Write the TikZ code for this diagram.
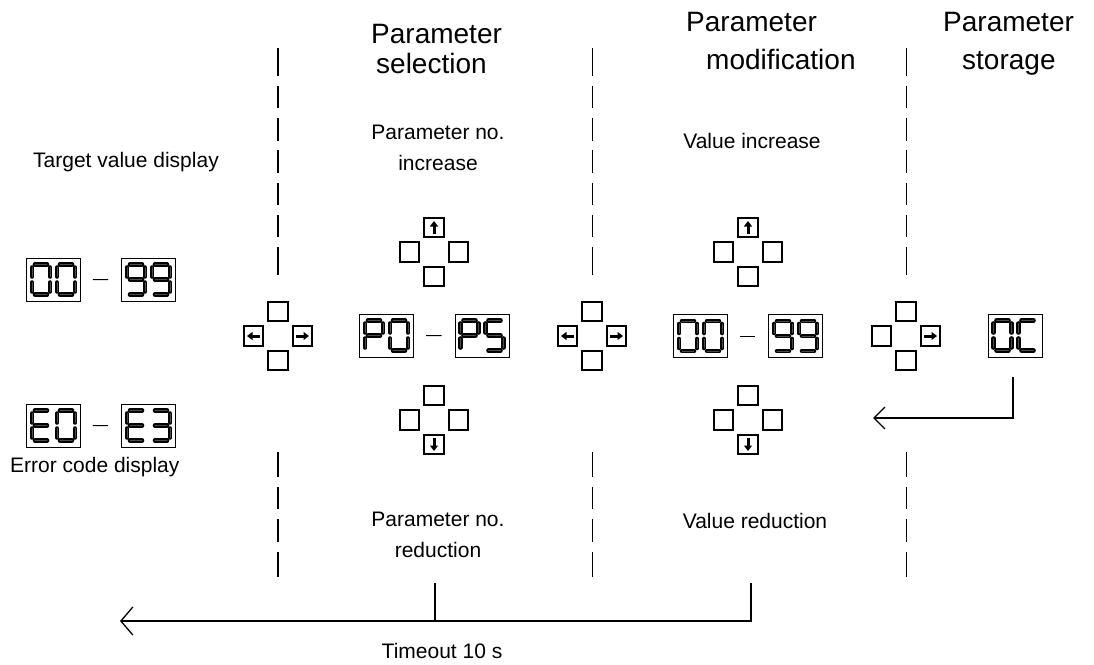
\documentclass[tikz,border=0pt]{standalone}
\usepackage{fontspec}
\setmainfont{Liberation Sans}
\usetikzlibrary{arrows.meta,calc}

\tikzset{
  btn/.style={draw, line width=2.2pt, minimum size=19.5pt, inner sep=0pt},
  disp/.style={draw, line width=0.9pt, minimum width=54pt, minimum height=43pt, inner sep=0pt},
  segst/.style={line width=4.6pt, line cap=round},
  segin/.style={line width=0.8pt, line cap=round, black!70},
  dline/.style={line width=1.5pt},
  conn/.style={line width=1.3pt},
  hdr/.style={font=\fontsize{28}{30}\selectfont, inner sep=0pt, anchor=base west, align=left},
  lbl/.style={font=\fontsize{21}{31}\selectfont, inner sep=0pt, anchor=base, align=center},
  barrow/.style={line width=3pt, -{Triangle[length=5.5pt,width=8pt]}},
  dashup/.style={dline, dash pattern=on 28pt off 10pt on 22pt off 10pt on 23pt off 9pt on 23pt off 10pt on 22pt off 10pt on 22pt off 10pt on 28pt off 50pt},
  dashlo/.style={dline, dash pattern=on 25pt off 10pt on 22pt off 10pt on 23pt off 10pt on 25pt off 50pt},
  barb/.style={conn, -{Straight Barb[length=11pt,width=22pt]}},
  barbB/.style={conn, -{Straight Barb[length=12pt,width=28pt]}}
}

\def\segcoa{-6/-15/6/-15}
\def\segcob{9/-12/9/-3}
\def\segcoc{9/3/9/12}
\def\segcod{-6/15/6/15}
\def\segcoe{-9/3/-9/12}
\def\segcof{-9/-12/-9/-3}
\def\segcog{-6/0/6/0}
\def\segpath#1/#2/#3/#4\relax{\draw[segst] (#1,#2)--(#3,#4); \draw[segin] (#1,#2)--(#3,#4);}
\newcommand\sdigit[3]{%
  \begin{scope}[shift={(#1,#2)}]
    \foreach \s in {#3}{\expandafter\expandafter\expandafter\segpath\csname segco\s\endcsname\relax}
  \end{scope}}
\newcommand\dispbox[5]{%
  \node[disp] (#1) at (#2,#3) {};
  \sdigit{#2-12.5}{#3}{#4}
  \sdigit{#2+12.5}{#3}{#5}}
\newcommand\dpad[3]{%
  \node[btn] (#1t) at (#2,#3-24.5) {};
  \node[btn] (#1l) at (#2-24.5,#3) {};
  \node[btn] (#1r) at (#2+24.5,#3) {};
  \node[btn] (#1b) at (#2,#3+24.5) {};}
\newcommand\arrU[1]{\draw[barrow] ([yshift=-6.5pt]#1.center) -- ([yshift=6.5pt]#1.center);}
\newcommand\arrD[1]{\draw[barrow] ([yshift=6.5pt]#1.center) -- ([yshift=-6.5pt]#1.center);}
\newcommand\arrL[1]{\draw[barrow] ([xshift=6.5pt]#1.center) -- ([xshift=-6.5pt]#1.center);}
\newcommand\arrR[1]{\draw[barrow] ([xshift=-6.5pt]#1.center) -- ([xshift=6.5pt]#1.center);}
\newcommand\rangedash[2]{\draw[line width=1pt] ($(#1.east)!0.3!(#2.west)$) -- ($(#1.east)!0.68!(#2.west)$);}

\begin{document}
\begin{tikzpicture}[x=1pt,y=-1pt]
\useasboundingbox (0,0) rectangle (1094,664);

% headers (anchor = baseline of last line)
\node[hdr] (h1) at (371,73) {Parameter\\\hspace*{5pt}selection};
\node[hdr] (h2) at (686,69) {Parameter\\[8pt]\hspace*{20pt}modification};
\node[hdr] (h3) at (943,69) {Parameter\\[8pt]\hspace*{19pt}storage};

% small labels
\node[lbl, anchor=base west] (ltv) at (33,167) {Target value display};
\node[lbl, anchor=base west] (lec) at (10,472) {Error code display};
\node[lbl] (lpi) at (438,170) {Parameter no.\\increase};
\node[lbl] (lvi) at (752,148) {Value increase};
\node[lbl] (lpr) at (438,557) {Parameter no.\\reduction};
\node[lbl] (lvr) at (755,528) {Value reduction};
\node[lbl] (lto) at (442,658) {Timeout 10 s};

% dashed separators
\foreach \xx in {278,592.5,906.5}{
  \draw[dashup] (\xx,48) -- (\xx,275);
  \draw[dashlo] (\xx,452) -- (\xx,577);
}

% displays
\dispbox{dA}{53.5}{279.5}{a,b,c,d,e,f}{a,b,c,d,e,f}
\dispbox{dB}{148.5}{279.5}{a,b,c,d,f,g}{a,b,c,d,f,g}
\dispbox{eA}{53.5}{425.5}{a,d,e,f,g}{a,b,c,d,e,f}
\dispbox{eB}{148.5}{425.5}{a,d,e,f,g}{a,b,c,d,g}
\dispbox{pA}{386.5}{335.5}{a,b,e,f,g}{a,b,c,d,e,f}
\dispbox{pB}{482}{335.5}{a,b,e,f,g}{a,c,d,f,g}
\dispbox{vA}{700.5}{336}{a,b,c,d,e,f}{a,b,c,d,e,f}
\dispbox{vB}{795.5}{336}{a,b,c,d,f,g}{a,b,c,d,f,g}
\dispbox{oc}{1015}{335.5}{a,b,c,d,e,f}{a,d,e,f}
\rangedash{dA}{dB}
\rangedash{eA}{eB}
\rangedash{pA}{pB}
\rangedash{vA}{vB}

% button pads
\dpad{cL}{278}{336}
\dpad{cM}{592}{336}
\dpad{cR}{906}{336}
\dpad{sU}{434}{252}
\dpad{sD}{434}{420}
\dpad{mU}{748}{252}
\dpad{mD}{748}{420}
\arrL{cLl} \arrR{cLr}
\arrL{cMl} \arrR{cMr}
\arrR{cRr}
\arrU{sUt} \arrU{mUt}
\arrD{sDb} \arrD{mDb}

% storage return arrow
\coordinate (ocEnd) at (873,418);
\draw[barb] ([xshift=-2pt,yshift=-20pt]oc.south) |- (ocEnd);

% timeout arrow
\coordinate (tA) at (435,583);
\coordinate (tB) at (751,583);
\coordinate (tEnd) at (120,621);
\draw[barbB] (tB) |- (tEnd);
\draw[conn] (tA) -- (tA |- tEnd);
\end{tikzpicture}
\end{document}
